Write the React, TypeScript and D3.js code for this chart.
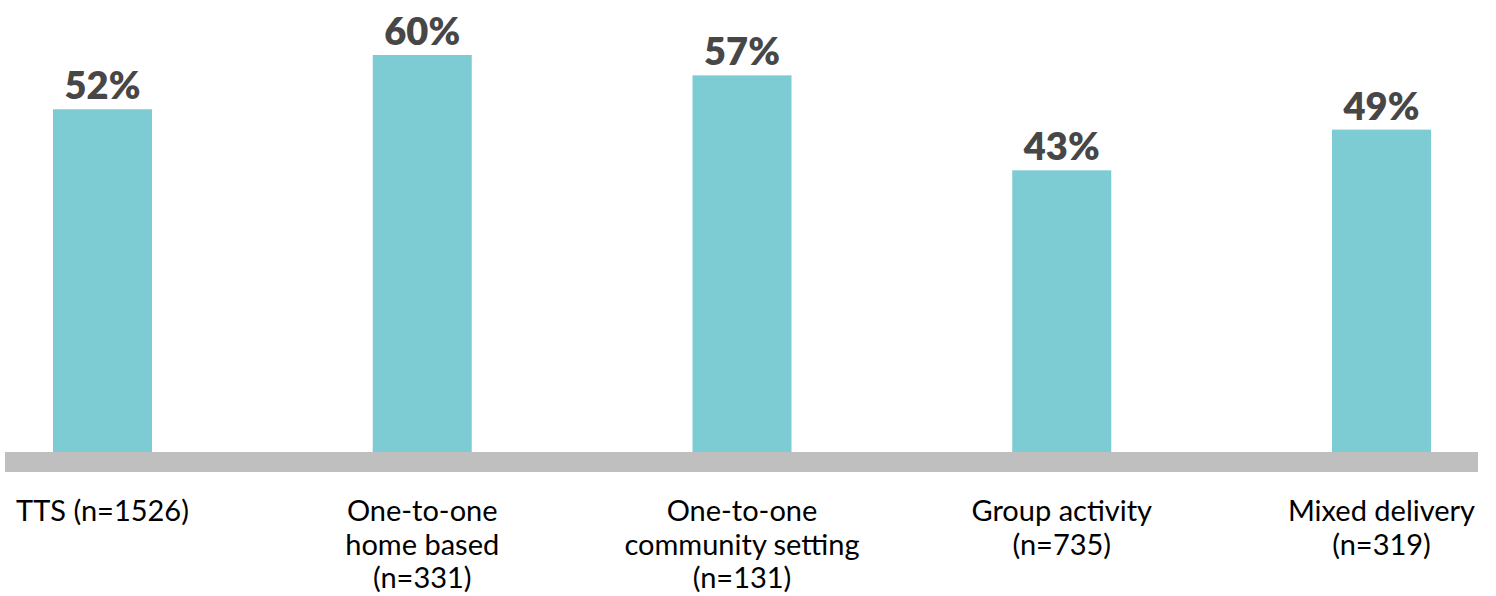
import React from "react";
import * as d3 from "d3";

const categories: string[][] = [
  ["TTS (n=1526)"],
  ["One-to-one", "home based", "(n=331)"],
  ["One-to-one", "community setting", "(n=131)"],
  ["Group activity", "(n=735)"],
  ["Mixed delivery", "(n=319)"],
];
const values: number[] = [52, 60, 57, 43, 49];
const valueLabels: string[] = ["52%", "60%", "57%", "43%", "49%"];

const W = 1496;
const H = 596;

export default function App() {
  const keys = categories.map((c) => c.join(" "));
  const x = d3.scalePoint<string>().domain(keys).range([102.5, 1381.5]);
  const y = d3.scaleLinear().domain([0, 60]).range([462, 55]);
  const barW = 99;
  return (
    <svg
      width={W}
      height={H}
      style={{ position: "absolute", left: 0, top: 0 }}
      fontFamily="Lato, 'Noto Sans', sans-serif"
    >
      {values.map((v, i) => {
        const cx = x(keys[i])!;
        return (
          <g key={i}>
            <rect x={cx - barW / 2} y={y(v)} width={barW} height={y(0) - y(v)} fill="#7ECCD3" />
            <text
              x={cx}
              y={y(v) - 10}
              textAnchor="middle"
              fontSize={38}
              fontWeight={800}
              fill="#474747"
            >
              {valueLabels[i]}
            </text>
          </g>
        );
      })}
      <rect x={5} y={y(0) - 10} width={1473} height={20} fill="#BFBFBF" />
      {categories.map((lines, i) => {
        const cx = x(keys[i])!;
        return (
          <text key={i} x={cx} y={521} textAnchor="middle" fontSize={29} fill="#000">
            {lines.map((l, j) => (
              <tspan key={j} x={cx} dy={j === 0 ? 0 : 33.5}>
                {l}
              </tspan>
            ))}
          </text>
        );
      })}
    </svg>
  );
}
